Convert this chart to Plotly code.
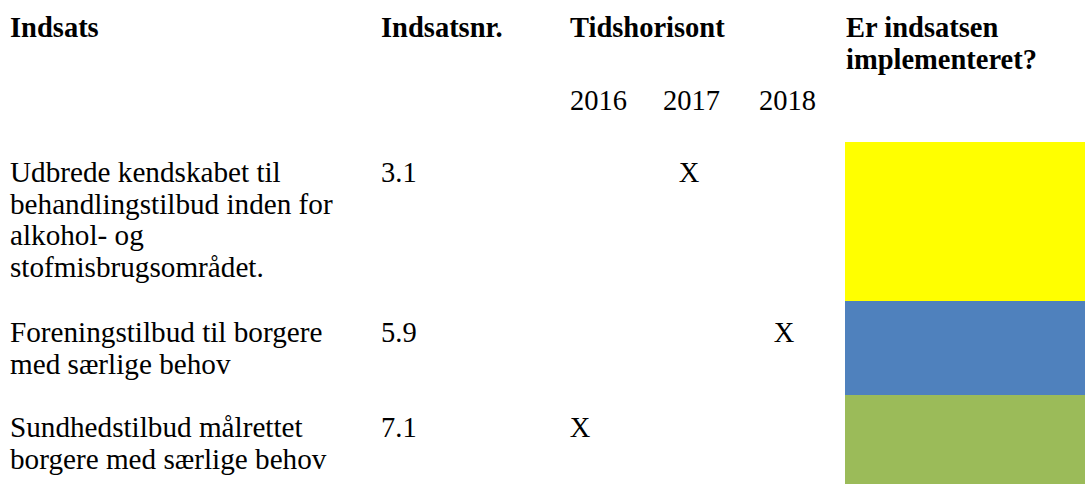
import plotly.graph_objects as go

# ---- data ----
headers = ["Indsats", "Indsatsnr.", "Tidshorisont"]
status_header = ["Er indsatsen", "implementeret?"]
years = ["2016", "2017", "2018"]
indsats = [
    ["Udbrede kendskabet til", "behandlingstilbud inden for", "alkohol- og", "stofmisbrugsområdet."],
    ["Foreningstilbud til borgere", "med særlige behov"],
    ["Sundhedstilbud målrettet", "borgere med særlige behov"],
]
indsatsnr = ["3.1", "5.9", "7.1"]
planned_year = ["2017", "2018", "2016"]
status_colors = ["#FFFF00", "#4F81BD", "#9BBB59"]

# ---- layout constants (pixel coordinates) ----
W, H = 1085, 484
FS = 28.5
FS_BODY = 29.2
FONT = "Liberation Serif"
header_x = [10, 381, 570]
status_x = 846
header_base = 37
line_gap = 31.7
year_x = [570, 663, 759]
year_base = 110
mark_cx = {"2016": 580, "2017": 689, "2018": 784}
row_base = [182, 342, 437]
row_top = [142, 301, 395]
row_bot = [301, 395, 484]
col_text_x = 10
col_nr_x = 381
block_x0, block_x1 = 845, 1085


def ypos(baseline, fs=FS):
    # scatter text "middle": baseline sits ~0.25*fontsize below the anchor point
    return baseline - 0.25 * fs


fig = go.Figure()

# status blocks
fig.add_trace(go.Bar(
    orientation="h",
    y=[(t + b) / 2 for t, b in zip(row_top, row_bot)],
    x=[block_x1 - block_x0] * len(status_colors),
    base=[block_x0] * len(status_colors),
    width=[b - t for t, b in zip(row_top, row_bot)],
    marker=dict(color=status_colors, line=dict(width=0)),
    hoverinfo="skip",
    showlegend=False,
))

bold = dict(family=FONT, size=FS, color="black", weight="bold")
normal = dict(family=FONT, size=FS, color="black")
body = dict(family=FONT, size=FS_BODY, color="black")

# headers
hx = header_x + [status_x, status_x]
hy = [ypos(header_base)] * 3 + [ypos(header_base), ypos(header_base + line_gap)]
fig.add_trace(go.Scatter(
    x=hx, y=hy, text=[f"<b>{t}</b>" for t in headers + status_header],
    mode="text", textposition="middle right", textfont=bold,
    hoverinfo="skip", showlegend=False,
))

# years
fig.add_trace(go.Scatter(
    x=year_x, y=[ypos(year_base)] * len(years), text=years,
    mode="text", textposition="middle right", textfont=normal,
    hoverinfo="skip", showlegend=False,
))

# indsats text lines
tx, ty, tt = [], [], []
for i, lines in enumerate(indsats):
    for j, line in enumerate(lines):
        tx.append(col_text_x)
        ty.append(ypos(row_base[i] + j * line_gap, FS_BODY))
        tt.append(line)
fig.add_trace(go.Scatter(
    x=tx, y=ty, text=tt, mode="text", textposition="middle right",
    textfont=body, hoverinfo="skip", showlegend=False,
))

# indsatsnr
fig.add_trace(go.Scatter(
    x=[col_nr_x] * len(indsatsnr), y=[ypos(b) for b in row_base], text=indsatsnr,
    mode="text", textposition="middle right", textfont=normal,
    hoverinfo="skip", showlegend=False,
))

# X marks
fig.add_trace(go.Scatter(
    x=[mark_cx[y] for y in planned_year], y=[ypos(b) for b in row_base],
    text=["X"] * len(planned_year), mode="text", textposition="middle center",
    textfont=normal, hoverinfo="skip", showlegend=False,
))

fig.update_layout(
    width=W, height=H,
    margin=dict(l=0, r=0, t=0, b=0),
    paper_bgcolor="white", plot_bgcolor="white",
    xaxis=dict(range=[0, W], visible=False, fixedrange=True),
    yaxis=dict(range=[H, 0], visible=False, fixedrange=True),
    bargap=0,
)

fig.write_html(
    "out.html",
    config={"displayModeBar": False},
    post_script="document.body.style.margin='0px';document.body.style.overflow='hidden';",
)
